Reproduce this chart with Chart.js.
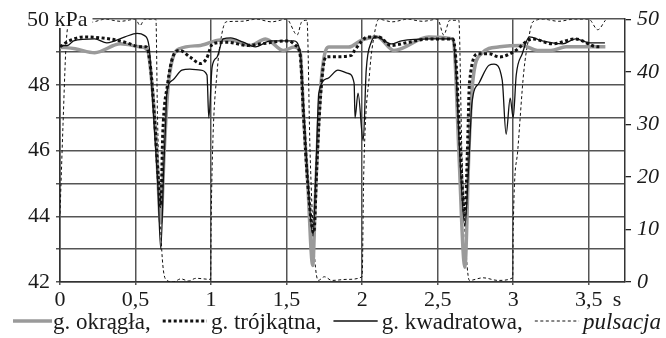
<!DOCTYPE html>
<html>
<head>
<meta charset="utf-8">
<script src="https://cdn.jsdelivr.net/npm/chart.js@4.4.1/dist/chart.umd.min.js"></script>
<style>
    html, body { margin: 0; padding: 0; background: #fff; }
    #chart { display: block; }
</style>
</head>
<body>
<canvas id="chart" width="666" height="338"></canvas>
<script>
// time in s, pressure in kPa, pulsation 0-50 (right axis)
const seriesNames = ["g. okrągła,", "g. trójkątna,", "g. kwadratowa,", "pulsacja"];
const xTicks = [0, 0.5, 1, 1.5, 2, 2.5, 3, 3.5];
const yTicks = [42, 43, 44, 45, 46, 47, 48, 49, 50];
const y2Ticks = [0, 10, 20, 30, 40, 50];

const tOkragla = [0, 0.1, 0.23, 0.4, 0.53, 0.58, 0.613, 0.64, 0.667, 0.69, 0.713, 0.74, 0.79, 0.93, 1.06, 1.13, 1.26, 1.36, 1.48, 1.55, 1.59, 1.613, 1.64, 1.673, 1.69, 1.713, 1.74, 1.78, 1.91, 2.0, 2.1, 2.21, 2.44, 2.6, 2.613, 2.64, 2.68, 2.707, 2.73, 2.79, 2.91, 3.06, 3.16, 3.25, 3.35, 3.46, 3.59, 3.61];
const pOkragla = [49.15, 49.1, 48.98, 49.25, 49.16, 49.05, 47.8, 46.0, 43.8, 46.0, 47.8, 48.7, 49.1, 49.2, 49.37, 49.37, 49.2, 49.4, 49.05, 49.15, 49.0, 47.0, 45.0, 42.5, 44.5, 47.0, 48.6, 49.15, 49.15, 49.37, 49.46, 49.05, 49.46, 49.4, 48.95, 46.0, 42.45, 46.0, 48.0, 48.95, 49.16, 49.2, 49.05, 49.05, 49.16, 49.16, 49.16, 49.16];

const tTrojkatna = [0, 0.06, 0.16, 0.33, 0.43, 0.53, 0.57, 0.6, 0.627, 0.65, 0.667, 0.68, 0.713, 0.747, 0.793, 0.86, 0.93, 0.97, 1.01, 1.11, 1.24, 1.33, 1.51, 1.56, 1.59, 1.613, 1.64, 1.68, 1.7, 1.72, 1.74, 1.76, 1.84, 1.93, 1.95, 2.04, 2.11, 2.19, 2.31, 2.44, 2.6, 2.62, 2.645, 2.68, 2.7, 2.71, 2.77, 2.84, 2.91, 3.0, 3.13, 3.26, 3.41, 3.56, 3.57];
const pTrojkatna = [49.16, 49.34, 49.46, 49.4, 49.3, 49.16, 49.16, 48.5, 46.9, 45.2, 44.3, 46.5, 48.05, 48.85, 49.05, 48.85, 48.65, 48.8, 49.25, 49.3, 49.2, 49.25, 49.34, 49.2, 48.9, 47.0, 45.0, 43.5, 45.5, 47.3, 48.45, 48.85, 48.86, 48.9, 49.05, 49.46, 49.46, 49.2, 49.3, 49.4, 49.4, 48.8, 46.5, 44.05, 46.5, 48.05, 48.95, 48.95, 48.85, 49.0, 49.4, 49.25, 49.4, 49.16, 49.16];

const tKwadratowa = [0, 0.05, 0.09, 0.23, 0.31, 0.43, 0.51, 0.56, 0.59, 0.607, 0.627, 0.647, 0.667, 0.687, 0.7, 0.707, 0.747, 0.807, 0.86, 0.93, 0.973, 0.985, 1.007, 1.04, 1.08, 1.13, 1.213, 1.293, 1.393, 1.547, 1.59, 1.61, 1.635, 1.675, 1.695, 1.713, 1.773, 1.84, 1.907, 1.947, 1.953, 1.973, 2.007, 2.027, 2.06, 2.093, 2.193, 2.26, 2.46, 2.6, 2.62, 2.645, 2.68, 2.705, 2.727, 2.773, 2.84, 2.873, 2.927, 2.953, 2.98, 3.0, 3.02, 3.06, 3.107, 3.193, 3.327, 3.413, 3.507, 3.607];
const pKwadratowa = [49.2, 49.2, 49.34, 49.4, 49.28, 49.46, 49.57, 49.5, 49.16, 48.0, 46.5, 45.0, 43.0, 45.5, 46.9, 47.75, 48.15, 48.45, 48.48, 48.45, 48.3, 47.0, 48.55, 48.85, 49.4, 49.43, 49.3, 49.16, 49.34, 49.34, 49.0, 47.5, 45.5, 43.4, 45.5, 47.75, 48.2, 48.45, 48.35, 48.05, 47.0, 47.75, 46.3, 48.45, 49.3, 49.46, 49.25, 49.34, 49.4, 49.4, 48.5, 46.0, 43.7, 45.5, 47.45, 48.05, 48.6, 48.63, 48.15, 46.5, 47.6, 47.0, 48.3, 48.95, 49.46, 49.34, 49.25, 49.4, 49.28, 49.28];

const tPulsacja = [0, 0.02, 0.04, 0.06, 0.1, 0.2, 0.3, 0.4, 0.5, 0.53, 0.56, 0.635, 0.645, 0.67, 0.7, 0.75, 0.8, 0.85, 0.9, 0.997, 1.0, 1.01, 1.04, 1.07, 1.1, 1.2, 1.3, 1.4, 1.5, 1.57, 1.6, 1.635, 1.655, 1.685, 1.71, 1.75, 1.8, 1.9, 2.0, 2.01, 2.05, 2.08, 2.11, 2.2, 2.3, 2.4, 2.5, 2.54, 2.58, 2.64, 2.66, 2.69, 2.71, 2.8, 2.9, 2.997, 3.0, 3.03, 3.07, 3.1, 3.13, 3.2, 3.3, 3.4, 3.5, 3.56, 3.61];
const pPulsacja = [13, 30, 45, 49.5, 50, 49.4, 50, 49.6, 50, 48.8, 50, 50, 32, 8, 0.5, 0, 0.6, 0.2, 0.7, 0.5, 10, 25, 40, 47, 49.5, 49.6, 50, 49.5, 50, 47, 49.5, 49.8, 25, 5, 0.3, 1, 0.3, 0.5, 1, 20, 40, 47, 50, 49.5, 50, 49.6, 50, 47, 49.8, 49.8, 25, 5, 0.3, 0.8, 0.3, 0.8, 10, 25, 40, 46, 49.5, 50, 49.6, 50, 50, 48, 49.8];

const serif = "'Liberation Serif', 'Times New Roman', serif";
const gridColor = "#555";
const textColor = "#1a1a1a";

function toPoints(ts, vs) {
    return ts.map(function (t, i) { return { x: t, y: vs[i] }; });
}

function setTicks(values) {
    return function (scale) {
        scale.ticks = values.map(function (v) { return { value: v }; });
    };
}

// legend, axis unit labels drawn on the canvas
const extrasPlugin = {
    id: "extras",
    afterDraw: function (chart) {
        var ctx = chart.ctx;
        var area = chart.chartArea;
        ctx.save();

        // "50 kPa" top-left, over the frame
        ctx.font = "22px " + serif;
        ctx.textBaseline = "middle";
        ctx.textAlign = "left";
        var w = ctx.measureText("50 kPa").width;
        ctx.fillStyle = "#fff";
        ctx.fillRect(24, 2, w + 8, 26);
        ctx.fillStyle = textColor;
        ctx.fillText("50 kPa", 27, area.top + 1);

        // unit of x axis
        ctx.textAlign = "center";
        ctx.fillText("s", 617, 300);

        // legend row
        var styles = [
            { color: "#9a9a9a", width: 3.5, dash: [] },
            { color: "#111", width: 3, dash: [3, 2.5] },
            { color: "#111", width: 1.3, dash: [] },
            { color: "#111", width: 1, dash: [3, 2.5] }
        ];
        var fonts = ["23px " + serif, "23px " + serif, "23px " + serif, "italic 23px " + serif];
        var widths = seriesNames.map(function (name, i) {
            ctx.font = fonts[i];
            return ctx.measureText(name).width;
        });
        // first line fixed, the others share the rest of the row
        var firstLine = [13, 52];
        var endX = 661, g1 = 4, g2 = 12;
        var restText = widths[1] + widths[2] + widths[3];
        var afterFirst = firstLine[1] + 1 + widths[0];
        var lineLen = (endX - afterFirst - restText - 3 * (g1 + g2)) / 3;
        var lineY = 321, baseY = 329;
        ctx.textAlign = "left";
        ctx.textBaseline = "alphabetic";
        var x = firstLine[0];
        seriesNames.forEach(function (name, i) {
            var s = styles[i];
            var len = i === 0 ? firstLine[1] - firstLine[0] : lineLen;
            var gap = i === 0 ? 1 : g1;
            if (i > 0) x += g2;
            ctx.beginPath();
            ctx.setLineDash(s.dash);
            ctx.lineWidth = s.width;
            ctx.strokeStyle = s.color;
            ctx.moveTo(x, lineY);
            ctx.lineTo(x + len, lineY);
            ctx.stroke();
            x += len + gap;
            ctx.setLineDash([]);
            ctx.font = fonts[i];
            ctx.fillStyle = textColor;
            ctx.fillText(name, x, baseY);
            x += widths[i];
        });
        ctx.restore();
    }
};

const chart = new Chart(document.getElementById("chart"), {
    type: "line",
    data: {
        datasets: [
            {
                label: seriesNames[0],
                data: toPoints(tOkragla, pOkragla),
                yAxisID: "y",
                borderColor: "#9a9a9a",
                borderWidth: 3.5,
                order: 3
            },
            {
                label: seriesNames[1],
                data: toPoints(tTrojkatna, pTrojkatna),
                yAxisID: "y",
                borderColor: "#111",
                borderWidth: 3,
                borderDash: [3, 2.5],
                order: 1
            },
            {
                label: seriesNames[2],
                data: toPoints(tKwadratowa, pKwadratowa),
                yAxisID: "y",
                borderColor: "#111",
                borderWidth: 1.3,
                order: 2
            },
            {
                label: seriesNames[3],
                data: toPoints(tPulsacja, pPulsacja),
                yAxisID: "y2",
                borderColor: "#111",
                borderWidth: 1,
                borderDash: [3, 2.5],
                order: 4
            }
        ]
    },
    options: {
        responsive: false,
        animation: false,
        layout: { padding: { top: 15, left: 0, right: 0, bottom: 0 } },
        elements: {
            point: { radius: 0 },
            line: { tension: 0.2, cubicInterpolationMode: "monotone", fill: false }
        },
        plugins: {
            legend: { display: false },
            tooltip: { enabled: false }
        },
        scales: {
            x: {
                type: "linear",
                min: 0,
                max: 3.74,
                afterBuildTicks: setTicks(xTicks),
                afterFit: function (scale) { scale.height = 56; },
                grid: { color: gridColor, lineWidth: 1.5, tickLength: 3 },
                border: { color: "#333", width: 1.5 },
                ticks: {
                    autoSkip: false,
                    maxRotation: 0,
                    padding: 2,
                    color: textColor,
                    font: { family: serif, size: 22 },
                    callback: function (v) { return String(v).replace(".", ","); }
                }
            },
            y: {
                position: "left",
                min: 42,
                max: 50,
                afterBuildTicks: setTicks(yTicks),
                afterFit: function (scale) { scale.width = 60; },
                grid: { color: gridColor, lineWidth: 1.5, tickLength: 4 },
                border: { color: "#333", width: 1.5 },
                ticks: {
                    padding: 6,
                    color: textColor,
                    font: { family: serif, size: 22 },
                    callback: function (v) { return (v % 2 === 0 && v !== 50) ? String(v) : ""; }
                }
            },
            y2: {
                position: "right",
                min: 0,
                max: 50,
                afterBuildTicks: setTicks(y2Ticks),
                afterFit: function (scale) { scale.width = 41; },
                grid: { drawOnChartArea: false, color: "#222", lineWidth: 1.3, tickLength: 6 },
                border: { color: "#333", width: 1.5 },
                ticks: {
                    padding: 6,
                    color: textColor,
                    font: { family: serif, size: 22, style: "italic" }
                }
            }
        }
    },
    plugins: [extrasPlugin]
});
</script>
</body>
</html>
